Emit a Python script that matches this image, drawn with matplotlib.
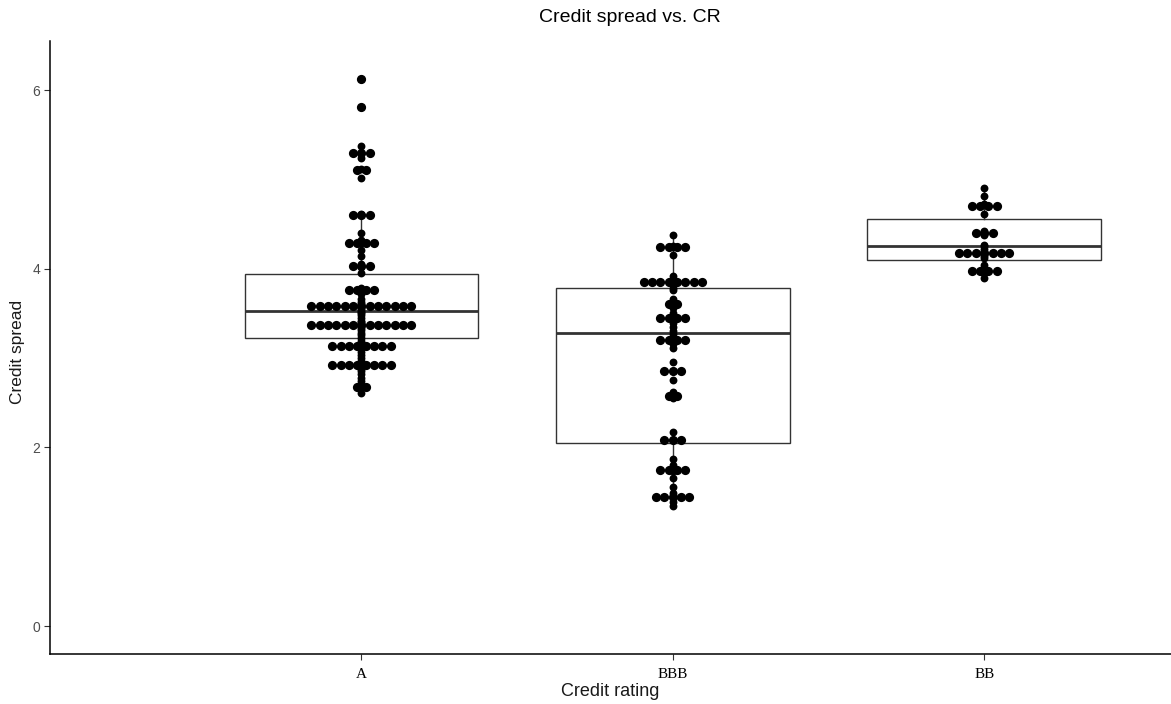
'''Credit spread vs. credit rating: boxplot with centred dot stacks'''
import numpy as np
import matplotlib
matplotlib.use("Agg")
import matplotlib.pyplot as plt

plt.rcParams['font.family'] = ['Liberation Sans', 'DejaVu Sans']

# 1. Data.
categories = ["A", "BBB", "BB"]

# Dot stacks: bin centre (credit spread) and number of dots in the row.
rowsA_y = [6.13, 5.81, 5.30, 5.11, 4.60, 4.29, 4.03, 3.76, 3.58, 3.37, 3.14, 2.92, 2.68]
rowsA_n = [1, 1, 3, 2, 3, 4, 3, 4, 13, 13, 8, 8, 2]
rowsBBB_y = [4.24, 3.85, 3.61, 3.45, 3.20, 2.85, 2.58, 2.08, 1.75, 1.44]
rowsBBB_n = [4, 8, 2, 4, 4, 3, 2, 3, 4, 5]
rowsBB_y = [4.70, 4.40, 4.18, 3.97]
rowsBB_n = [4, 3, 7, 4]

# Single observations drawn on the centre line.
rawA = [6.13, 5.81, 5.37, 5.30, 5.24, 5.12, 5.02, 4.61, 4.60, 4.40,
        4.32, 4.29, 4.21, 4.14, 4.05, 4.02, 3.95, 3.79, 3.76, 3.72,
        3.66, 3.63, 3.60, 3.58, 3.56, 3.54, 3.52, 3.50, 3.48,
        3.45, 3.42, 3.40, 3.38, 3.36, 3.34, 3.31, 3.28, 3.26,
        3.22, 3.19, 3.16, 3.13, 3.10, 3.07, 3.04, 3.00, 2.97,
        2.94, 2.91, 2.88, 2.85, 2.82, 2.78, 2.74, 2.70, 2.66, 2.61]
rawBBB = [4.38, 4.26, 4.24, 4.15, 3.92, 3.89, 3.86, 3.84, 3.82, 3.79,
          3.76, 3.66, 3.56, 3.50, 3.46, 3.43, 3.39, 3.35, 3.30, 3.27,
          3.24, 3.20, 3.16, 3.11, 2.96, 2.85, 2.75, 2.62, 2.55,
          2.17, 2.08, 1.87, 1.80, 1.74, 1.66, 1.56, 1.49, 1.44, 1.39, 1.34]
rawBB = [4.90, 4.81, 4.72, 4.61, 4.42, 4.40, 4.38, 4.27, 4.25, 4.22,
         4.19, 4.16, 4.14, 4.12, 4.04, 3.99, 3.95, 3.90]

# Box statistics.
q1 = [3.23, 2.05, 4.10]
med = [3.53, 3.28, 4.25]
q3 = [3.94, 3.78, 4.56]
whislo = [2.61, 1.34, 3.90]
whishi = [4.61, 4.38, 4.90]

# 2. Figure.
W, H = 1171, 704
fig = plt.figure(figsize=(W / 100, H / 100), dpi=100)
ax = fig.add_axes([50 / W, (H - 654) / H, (W - 50) / W, (654 - 41) / H])

positions = [1, 2, 3]
stats = []
for i in range(3):
    stats.append(dict(q1=q1[i], med=med[i], q3=q3[i],
                      whislo=whislo[i], whishi=whishi[i], fliers=[]))
ax.bxp(stats, positions=positions, widths=0.75, showcaps=False,
       patch_artist=True,
       boxprops=dict(facecolor='white', edgecolor='#333333', linewidth=1.0),
       whiskerprops=dict(color='#333333', linewidth=1.0),
       medianprops=dict(color='#333333', linewidth=2.0),
       zorder=1)

# Dot stacks, centred on each category.
step = 0.0268
rows = [(rowsA_y, rowsA_n), (rowsBBB_y, rowsBBB_n), (rowsBB_y, rowsBB_n)]
for pos, (ry, rn) in zip(positions, rows):
    for y, n in zip(ry, rn):
        xs = pos + (np.arange(n) - (n - 1) / 2) * step
        ax.scatter(xs, [y] * n, s=44, color='black', linewidths=0, zorder=3)

for pos, raw in zip(positions, [rawA, rawBBB, rawBB]):
    ax.scatter([pos] * len(raw), raw, s=32, color='black', linewidths=0, zorder=4)

ax.set_xlim(0.0, 3.6)
ax.set_ylim(-0.313, 6.55)
ax.set_xticks(positions)
ax.set_xticklabels(categories, family=['Liberation Serif', 'DejaVu Serif'],
                   fontsize=11, color='black')
ax.set_yticks([0, 2, 4, 6])
ax.set_yticklabels(['0', '2', '4', '6'], fontsize=10, color='#4d4d4d')
ax.tick_params(axis='x', length=4, width=0.8, color='#333333', pad=6)
ax.tick_params(axis='y', length=4, width=0.8, color='#333333', pad=3)
for side in ['top', 'right']:
    ax.spines[side].set_visible(False)
for side in ['left', 'bottom']:
    ax.spines[side].set_linewidth(1.1)
    ax.spines[side].set_color('black')

fig.text(630 / W, 1 - 18 / H, "Credit spread vs. CR", ha='center', va='center',
         fontsize=14, color='black')
fig.text(610 / W, 1 - 692 / H, "Credit rating", ha='center', va='center',
         fontsize=13, color='#1a1a1a')
fig.text(18 / W, 1 - 352 / H, "Credit spread", ha='center', va='center',
         rotation=90, fontsize=12.5, color='#1a1a1a')

fig.savefig("out.png", dpi=100)
